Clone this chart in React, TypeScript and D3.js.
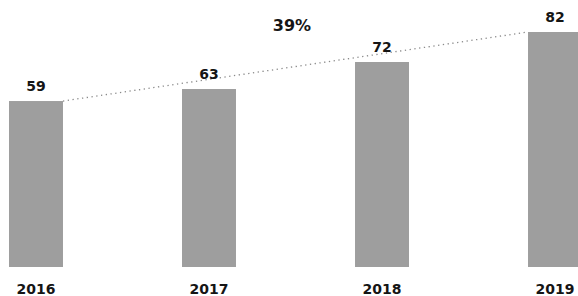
import React, { useEffect, useRef } from "react";
import * as d3 from "d3";

const years = ["2016", "2017", "2018", "2019"];
const values = [59, 63, 72, 82];
const growthLabel = "39%";

const width = 578;
const height = 296;

const App: React.FC = () => {
  const svgRef = useRef<SVGSVGElement>(null);

  useEffect(() => {
    if (!svgRef.current) return;
    const svg = d3.select(svgRef.current);
    svg.selectAll("*").remove();

    const baseY = 267;

    const x = d3.scaleBand<string>()
      .domain(years)
      .range([9, 582])
      .paddingInner(0.688)
      .paddingOuter(0);

    const y = d3.scaleLinear()
      .domain([3.7, 82])
      .range([baseY, 32]);

    const data = years.map((year, i) => ({ year, value: values[i] }));

    // bars
    svg.append("g")
      .selectAll("rect")
      .data(data)
      .join("rect")
      .attr("x", d => x(d.year)!)
      .attr("y", d => y(d.value))
      .attr("width", x.bandwidth())
      .attr("height", d => baseY - y(d.value))
      .attr("fill", "#9e9e9e");

    // dotted trend line from first bar to last bar
    const first = data[0];
    const last = data[data.length - 1];
    svg.append("line")
      .attr("x1", x(first.year)! + x.bandwidth())
      .attr("y1", y(first.value))
      .attr("x2", x(last.year)!)
      .attr("y2", y(last.value))
      .attr("stroke", "#8a8a8a")
      .attr("stroke-width", 1.3)
      .attr("stroke-dasharray", "1.3,3.5");

    // value labels
    svg.append("g")
      .selectAll("text")
      .data(data)
      .join("text")
      .attr("x", d => x(d.year)! + x.bandwidth() / 2)
      .attr("y", d => y(d.value) - 10)
      .attr("text-anchor", "middle")
      .style("font-family", "'DejaVu Sans', sans-serif")
      .style("font-weight", "bold")
      .style("font-size", "14px")
      .attr("fill", "#151515")
      .text(d => d.value);

    // year axis labels
    const xAxis = svg.append("g")
      .attr("transform", `translate(0,${baseY})`)
      .call(d3.axisBottom(x).tickSize(0).tickPadding(17));
    xAxis.select(".domain").remove();
    xAxis.selectAll("text")
      .style("font-family", "'DejaVu Sans', sans-serif")
      .style("font-weight", "bold")
      .style("font-size", "14px")
      .attr("fill", "#151515");

    // growth label
    svg.append("text")
      .attr("x", 292)
      .attr("y", 31)
      .attr("text-anchor", "middle")
      .style("font-family", "'DejaVu Sans', sans-serif")
      .style("font-weight", "bold")
      .style("font-size", "16px")
      .attr("fill", "#151515")
      .text(growthLabel);
  }, []);

  return (
    <div style={{ position: "absolute", left: 0, top: 0, width, height, background: "#fff" }}>
      <svg ref={svgRef} width={width} height={height} style={{ display: "block" }} />
    </div>
  );
};

export default App;
